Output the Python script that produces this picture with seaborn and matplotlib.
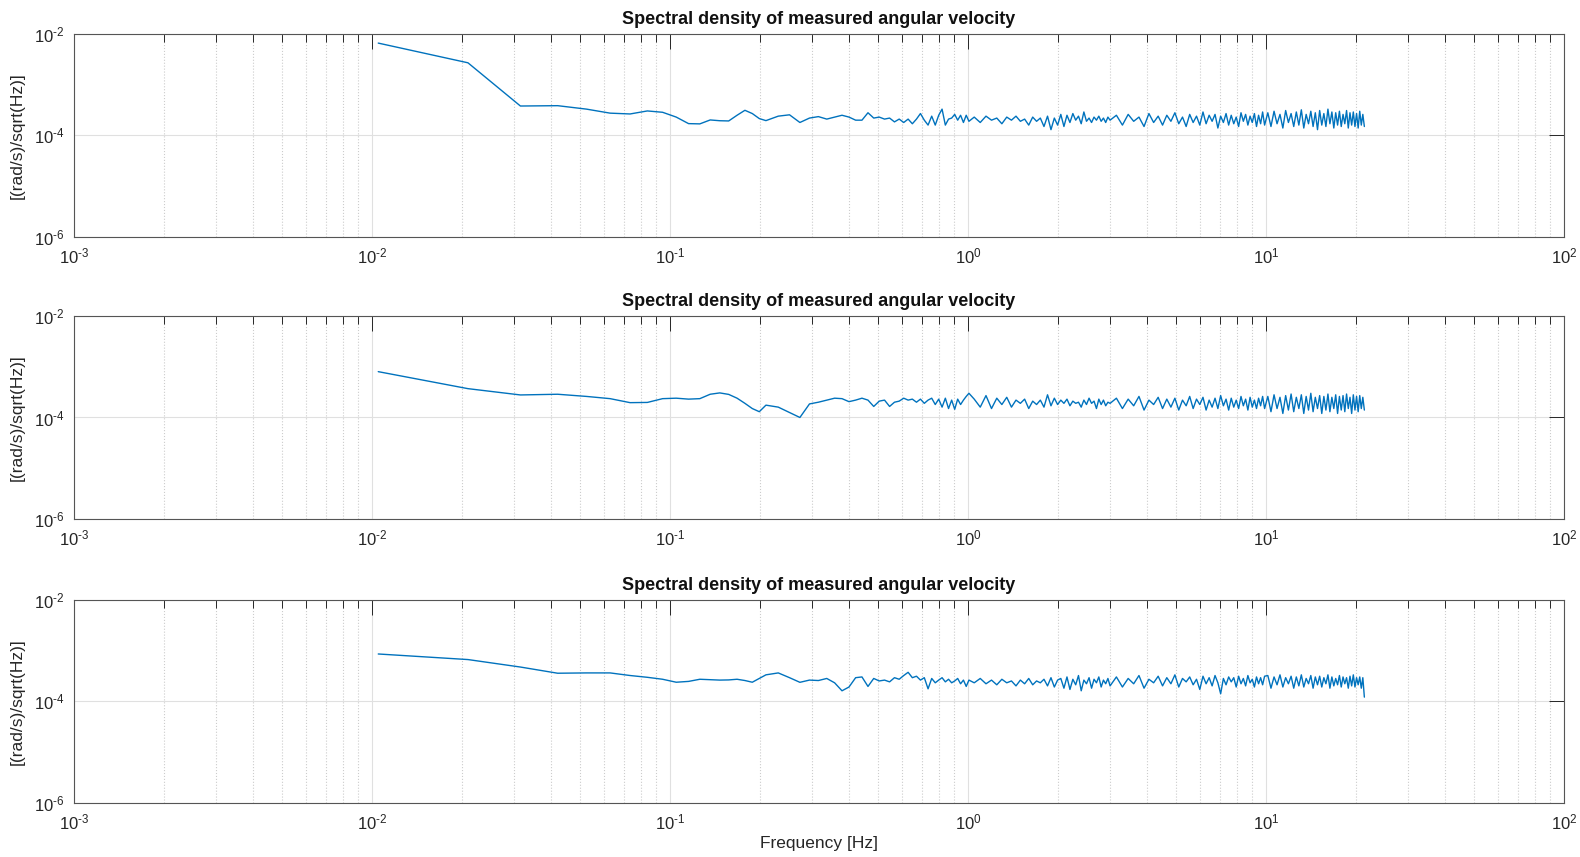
import numpy as np
import pandas as pd
import matplotlib
matplotlib.use("Agg")
import matplotlib.pyplot as plt
import matplotlib.ticker as mticker
import seaborn as sns

# frequency bins [Hz] (denser where the spectrum is noisy)
freq_hz = [
    0.0105, 0.021, 0.0315, 0.042, 0.0525, 0.063, 0.0735, 0.084, 0.0945, 0.105,
    0.1155, 0.126, 0.1365, 0.147, 0.1575, 0.168, 0.1785, 0.189, 0.1995, 0.21,
    0.231, 0.252, 0.273, 0.294, 0.315, 0.336, 0.357, 0.378, 0.399, 0.42,
    0.441, 0.462, 0.483, 0.504, 0.525, 0.546, 0.567, 0.588, 0.609, 0.63,
    0.651, 0.672, 0.693, 0.714, 0.735, 0.756, 0.777, 0.798, 0.819, 0.84,
    0.861, 0.882, 0.903, 0.924, 0.945, 0.966, 0.987, 1.008,
    1.05, 1.10, 1.15, 1.20, 1.25, 1.30, 1.35, 1.40, 1.45, 1.50,
    1.55, 1.60, 1.65, 1.70, 1.75, 1.80, 1.85, 1.90, 1.95, 2.00,
    2.05, 2.10, 2.15, 2.20, 2.25, 2.30, 2.35, 2.40, 2.45, 2.50,
    2.55, 2.60, 2.65, 2.70, 2.75, 2.80, 2.85, 2.90, 2.95, 3.00,
    3.15, 3.30, 3.45, 3.60, 3.75, 3.90, 4.05, 4.20, 4.35, 4.50,
    4.65, 4.80, 4.95, 5.10, 5.25, 5.40, 5.55, 5.70, 5.85, 6.00,
    6.15, 6.30, 6.45, 6.60, 6.75, 6.90, 7.05, 7.20, 7.35, 7.50,
    7.65, 7.80, 7.95, 8.10, 8.25, 8.40, 8.55, 8.70, 8.85, 9.00,
    9.15, 9.30, 9.45, 9.60, 9.75, 9.90,
    10.15, 10.40, 10.65, 10.90, 11.15, 11.40, 11.65, 11.90, 12.15, 12.40,
    12.65, 12.90, 13.15, 13.40, 13.65, 13.90, 14.15, 14.40, 14.65, 14.90,
    15.15, 15.40, 15.65, 15.90, 16.15, 16.40, 16.65, 16.90, 17.15, 17.40,
    17.65, 17.90, 18.15, 18.40, 18.65, 18.90, 19.15, 19.40, 19.65, 19.90,
    20.15, 20.40, 20.65, 20.90, 21.15, 21.40,
]

# spectral density, in units of 1e-4 (rad/s)/sqrt(Hz)
psd_1 = [
    66, 27, 3.8, 3.86, 3.3, 2.75, 2.65, 3.04, 2.86, 2.3,
    1.71, 1.69, 2.02, 1.95, 1.93, 2.5, 3.13, 2.7, 2.15, 1.96,
    2.4, 2.55, 1.8, 2.2, 2.35, 2.1, 2.3, 2.5, 2.3, 2.0,
    2.0, 2.8, 2.2, 2.3, 2.1, 2.2, 1.85, 2.1, 1.8, 2.1,
    1.7, 2.1, 2.7, 2.0, 1.6, 2.4, 1.6, 2.5, 3.3, 1.6,
    2.1, 2.2, 2.6, 2.0, 2.5, 1.8, 2.5, 1.9,
    2.3, 1.8, 2.4, 2.0, 2.2, 1.7, 2.3, 2.0, 2.4, 1.9,
    2.1, 1.6, 2.3, 1.9, 2.2, 1.5, 2.4, 1.3, 2.2, 1.6,
    2.6, 1.5, 2.5, 1.8, 2.7, 2.0, 2.4, 1.7, 2.9, 1.9,
    2.2, 1.8, 2.3, 2.0, 2.4, 1.9, 2.2, 1.8, 2.3, 2.0,
    2.5, 1.6, 2.6, 1.9, 2.3, 1.5, 2.7, 1.8, 2.4, 1.6,
    2.5, 1.9, 2.8, 1.7, 2.3, 1.5, 2.6, 1.8, 2.4, 1.6,
    2.9, 1.7, 2.5, 1.9, 2.6, 1.4, 2.4, 1.8, 2.7, 1.6,
    2.5, 1.7, 2.3, 1.5, 2.8, 1.9, 2.6, 1.6, 2.4, 1.8,
    2.7, 1.5, 2.5, 1.7, 2.9, 1.6,
    2.8, 1.5, 3.0, 1.7, 2.6, 1.4, 3.1, 1.8, 2.7, 1.5,
    2.9, 1.6, 3.2, 1.4, 2.6, 1.7, 3.0, 1.5, 2.8, 1.3,
    3.1, 1.6, 2.7, 1.5, 3.3, 1.7, 2.9, 1.4, 2.8, 1.6,
    3.0, 1.5, 2.6, 1.7, 3.1, 1.4, 2.8, 1.6, 2.9, 1.5,
    2.7, 1.4, 3.0, 1.6, 2.6, 1.5,
]

psd_2 = [
    8.0, 3.7, 2.78, 2.87, 2.6, 2.35, 1.96, 1.98, 2.35, 2.4,
    2.3, 2.35, 2.87, 3.05, 2.85, 2.4, 1.9, 1.5, 1.3, 1.75,
    1.6, 1.25, 1.0, 1.85, 2.0, 2.2, 2.4, 2.35, 2.05, 2.2,
    2.4, 2.2, 1.65, 2.1, 2.2, 1.65, 2.0, 2.1, 2.4, 2.2,
    2.3, 2.0, 2.3, 1.9, 2.2, 2.4, 1.8, 2.3, 1.6, 2.4,
    1.5, 2.2, 1.45, 2.3, 1.8, 2.2, 2.6, 3.0,
    2.3, 1.6, 2.7, 1.5, 2.4, 1.8, 2.5, 1.6, 2.2, 1.9,
    2.3, 1.5, 2.1, 1.8, 2.2, 1.6, 2.8, 1.7, 2.4, 1.8,
    2.2, 1.9, 2.3, 1.7, 2.1, 1.9, 2.0, 1.6, 2.2, 1.8,
    2.4, 1.9, 2.1, 1.5, 2.3, 1.8, 2.2, 1.7, 2.0, 1.9,
    2.4, 1.5, 2.3, 1.7, 2.6, 1.4, 2.2, 1.8, 2.5, 1.5,
    2.3, 1.6, 2.4, 1.4, 2.2, 1.7, 2.6, 1.5, 2.3, 1.8,
    2.5, 1.4, 2.2, 1.6, 2.4, 1.5, 2.7, 1.7, 2.3, 1.4,
    2.4, 1.6, 2.2, 1.5, 2.6, 1.7, 2.3, 1.4, 2.5, 1.6,
    2.2, 1.5, 2.4, 1.7, 2.6, 1.5,
    2.6, 1.3, 2.8, 1.5, 2.5, 1.2, 2.7, 1.4, 2.9, 1.3,
    2.5, 1.5, 2.8, 1.2, 2.6, 1.4, 3.0, 1.3, 2.5, 1.5,
    2.7, 1.2, 2.6, 1.4, 2.9, 1.3, 2.5, 1.5, 2.8, 1.2,
    2.6, 1.4, 2.7, 1.3, 2.9, 1.5, 2.5, 1.2, 2.8, 1.4,
    2.6, 1.3, 2.7, 1.5, 2.5, 1.4,
]

psd_3 = [
    8.5, 6.6, 4.7, 3.55, 3.6, 3.6, 3.2, 2.95, 2.7, 2.36,
    2.45, 2.7, 2.65, 2.6, 2.62, 2.7, 2.55, 2.36, 2.8, 3.3,
    3.6, 2.9, 2.35, 2.6, 2.55, 2.8, 2.3, 1.6, 1.9, 2.9,
    3.0, 1.95, 2.8, 2.5, 2.6, 2.4, 2.9, 2.7, 3.2, 3.7,
    2.9, 3.1, 2.6, 2.9, 1.75, 2.8, 2.3, 2.6, 2.9, 2.4,
    2.7, 2.3, 2.5, 2.8, 2.2, 2.6, 1.95, 2.6,
    2.3, 2.8, 2.2, 2.6, 2.1, 2.7, 2.3, 2.5, 2.0, 2.6,
    2.2, 2.8, 2.1, 2.5, 2.3, 2.7, 2.0, 2.9, 1.9, 2.6,
    2.8, 1.8, 3.0, 1.7, 2.7, 2.1, 3.2, 1.6, 2.6, 2.2,
    2.9, 1.8, 2.7, 2.3, 3.0, 1.9, 2.6, 2.2, 2.8, 2.0,
    3.0, 1.9, 2.8, 2.2, 3.2, 1.8, 2.7, 2.3, 3.1, 2.0,
    2.9, 2.2, 3.3, 1.9, 2.8, 2.4, 3.0, 2.1, 2.7, 1.7,
    3.1, 2.2, 2.9, 2.0, 3.2, 2.3, 1.4, 2.8, 2.1, 3.0,
    2.4, 2.9, 1.9, 3.1, 2.2, 2.8, 2.0, 3.2, 2.3, 2.7,
    1.9, 3.0, 2.2, 2.9, 2.1, 3.1,
    3.2, 1.8, 3.0, 2.1, 3.3, 1.9, 2.9, 2.2, 3.1, 1.8,
    3.0, 2.0, 3.3, 1.9, 2.8, 2.2, 3.2, 1.8, 3.0, 2.1,
    3.1, 1.9, 2.9, 2.2, 3.3, 1.8, 3.0, 2.0, 2.8, 2.1,
    3.2, 1.9, 3.0, 2.2, 2.9, 1.8, 3.1, 2.0, 3.3, 1.9,
    2.9, 2.1, 3.0, 1.8, 2.9, 1.2,
]

title = "Spectral density of measured angular velocity"
ylabel = "[(rad/s)/sqrt(Hz)]"
xlabel = "Frequency [Hz]"
x_exps = [-3, -2, -1, 0, 1, 2]
y_exps = [-6, -4, -2]
line_color = "#0072BD"

sns.set_style("white")
plt.rcParams['font.family'] = ['Liberation Sans', 'DejaVu Sans']
plt.rcParams['axes.unicode_minus'] = False
plt.rcParams['mathtext.fontset'] = 'custom'
plt.rcParams['mathtext.rm'] = 'Liberation Sans'


def pow_label(e):
    # MATLAB style: short hyphen in the exponent
    if e < 0:
        return r"$\mathdefault{10^{\text{-}%d}}$" % (-e)
    return r"$\mathdefault{10^{%d}}$" % e


fig = plt.figure(figsize=(15.8, 8.57), dpi=100)

# axes boxes [left, bottom, width, height] in figure fractions
boxes = [
    [0.0468, 0.7235, 0.9430, 0.2369],
    [0.0468, 0.3944, 0.9430, 0.2369],
    [0.0468, 0.0634, 0.9430, 0.2369],
]

for i, (vals, box) in enumerate(zip([psd_1, psd_2, psd_3], boxes)):
    ax = fig.add_axes(box)
    df = pd.DataFrame({"freq": freq_hz, "psd": np.array(vals) * 1e-4})
    sns.lineplot(data=df, x="freq", y="psd", ax=ax, color=line_color,
                 linewidth=1.0, errorbar=None)
    ax.set_xscale("log")
    ax.set_yscale("log")
    ax.set_xlim(1e-3, 1e2)
    ax.set_ylim(1e-6, 1e-2)
    ax.set_xticks([10.0 ** e for e in x_exps])
    ax.set_xticklabels([pow_label(e) for e in x_exps])
    ax.set_yticks([10.0 ** e for e in y_exps])
    ax.set_yticklabels([pow_label(e) for e in y_exps])
    ax.xaxis.set_minor_locator(mticker.LogLocator(base=10, subs=range(2, 10), numticks=20))
    ax.xaxis.set_minor_formatter(mticker.NullFormatter())
    ax.yaxis.set_minor_locator(mticker.NullLocator())

    ax.grid(True, which="major", color="#e0e0e0", linewidth=0.8, linestyle="-")
    ax.grid(True, which="minor", axis="x", color="#cccccc", linewidth=0.8, linestyle=":")
    ax.set_axisbelow(True)

    ax.tick_params(which="major", direction="in", length=10.5, width=0.7,
                   top=True, right=True, colors="#262626", labelsize=12, pad=7)
    ax.tick_params(which="minor", direction="in", length=5.5, width=0.7,
                   top=True, right=False, colors="#262626")
    for sp in ax.spines.values():
        sp.set_color("#555555")
        sp.set_linewidth(0.8)

    ax.set_title(title, fontsize=13, fontweight="bold", pad=7, color="#111111")
    ax.set_ylabel(ylabel, fontsize=12.5, color="#262626", labelpad=6)
    if i == 2:
        ax.set_xlabel(xlabel, fontsize=12.5, color="#262626", labelpad=3)
    else:
        ax.set_xlabel("")

fig.savefig("out.png", dpi=100)
